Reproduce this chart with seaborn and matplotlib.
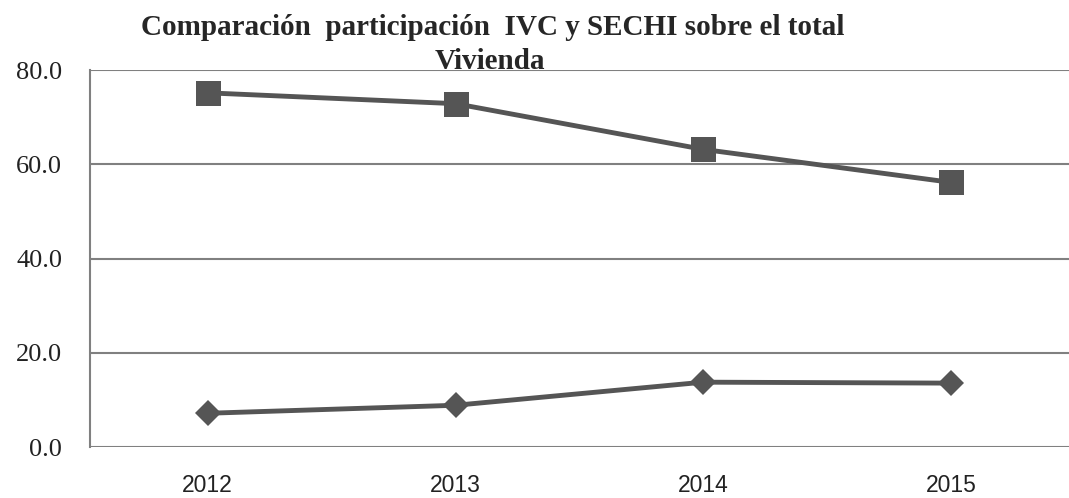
import pandas as pd
import seaborn as sns
import matplotlib.pyplot as plt

years = ['2012', '2013', '2014', '2015']
ivc = [75.2, 72.9, 63.2, 56.2]
sechi = [7.2, 8.9, 13.8, 13.6]

df = pd.DataFrame({'year': years, 'ivc': ivc, 'sechi': sechi})

sns.set_style('white')
fig = plt.figure(figsize=(10.69, 4.98), dpi=100)
ax = fig.add_axes([0.084, 0.102, 0.916, 0.757])

line_col = '#555555'
sns.lineplot(data=df, x='year', y='ivc', ax=ax, color=line_col, lw=3.5,
             marker='s', markersize=18, markeredgewidth=0, sort=False)
sns.lineplot(data=df, x='year', y='sechi', ax=ax, color=line_col, lw=3.5,
             marker='D', markersize=13, markeredgewidth=0, sort=False)

ax.set_ylim(0, 80)
ax.set_yticks([0, 20, 40, 60, 80])
ax.set_yticklabels([f'{v:.1f}' for v in [0, 20, 40, 60, 80]],
                   family='Liberation Serif', fontsize=19, color='#222222')
ax.set_xlim(-0.476, 3.476)
for lab in ax.get_xticklabels():
    lab.set_family('Liberation Sans')
    lab.set_fontsize(16.5)
    lab.set_color('#222222')
ax.tick_params(axis='x', length=0, pad=19)
ax.tick_params(axis='y', length=0, pad=20)
ax.set_xlabel('')
ax.set_ylabel('')

ax.yaxis.grid(True, color='#808080', lw=1.5)
ax.set_axisbelow(True)
for s in ['top', 'right', 'bottom']:
    ax.spines[s].set_visible(False)
ax.spines['left'].set_color('#808080')
ax.spines['left'].set_linewidth(1.5)

fig.text(0.461, 0.930, 'Comparación  participación  IVC y SECHI sobre el total',
         ha='center', va='baseline', family='Liberation Serif',
         fontweight='bold', fontsize=21)
fig.text(0.458, 0.862, 'Vivienda', ha='center', va='baseline',
         family='Liberation Serif', fontweight='bold', fontsize=21, zorder=5)

fig.savefig('out.png', dpi=100)
